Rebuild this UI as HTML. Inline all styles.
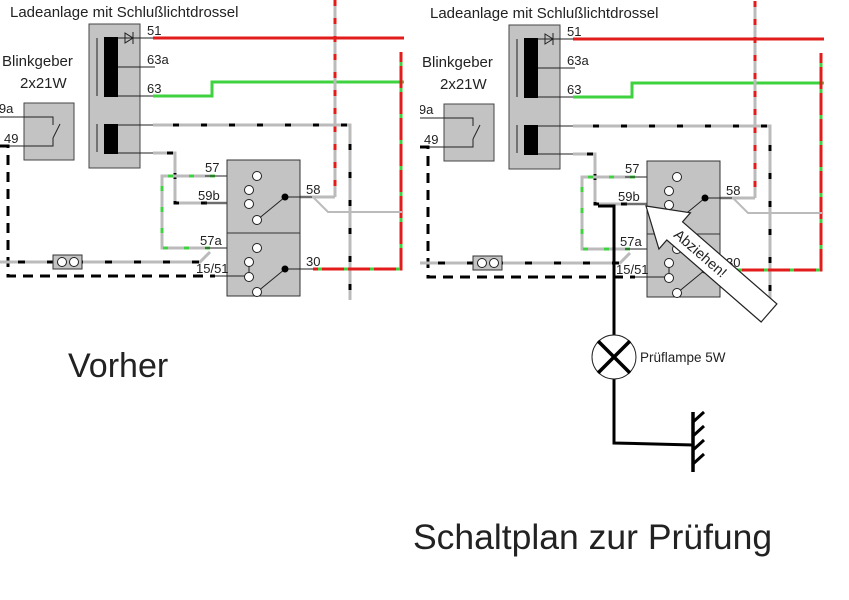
<!DOCTYPE html>
<html><head><meta charset="utf-8"><style>
html,body{margin:0;padding:0;background:#fff;width:849px;height:600px;overflow:hidden}
svg text{font-family:"Liberation Sans",Arial,sans-serif;fill:#222}
</style></head><body>
<svg width="849" height="600" viewBox="0 0 849 600" xmlns="http://www.w3.org/2000/svg">
<defs>
<clipPath id="c1"><rect x="0" y="0" width="408" height="300"/></clipPath>
<g id="dia">
<text x="10" y="17" font-size="15">Ladeanlage mit Schlußlichtdrossel</text>
<rect x="89" y="24" width="51" height="144" fill="#c3c3c3" stroke="#444" stroke-width="1"/>
<line x1="97" y1="38" x2="97" y2="96" stroke="#222" stroke-width="1"/>
<line x1="97" y1="124" x2="97" y2="152" stroke="#222" stroke-width="1"/>
<rect x="104" y="37" width="14" height="60" fill="#000"/>
<rect x="104" y="124" width="14" height="30" fill="#000"/>
<line x1="118" y1="38" x2="154" y2="38" stroke="#222"/>
<polygon points="125,33 125,43 133,38" fill="none" stroke="#222"/>
<line x1="133" y1="32" x2="133" y2="44" stroke="#222"/>
<line x1="118" y1="67" x2="155" y2="67" stroke="#222"/>
<line x1="118" y1="96" x2="153" y2="96" stroke="#222"/>
<line x1="118" y1="125" x2="153" y2="125" stroke="#222"/>
<line x1="118" y1="153" x2="153" y2="153" stroke="#222"/>
<text x="147" y="35" font-size="13">51</text>
<text x="147" y="64" font-size="13">63a</text>
<text x="147" y="93" font-size="13">63</text>
<line x1="153" y1="38" x2="404" y2="38" stroke="#e21b1b" stroke-width="3"/>
<polyline points="153,96 212,96 212,82 404,82" fill="none" stroke="#3fd23f" stroke-width="3"/>
<line x1="335" y1="0" x2="335" y2="197" stroke="#bbb" stroke-width="3"/>
<line x1="335" y1="0" x2="335" y2="197" stroke="#e21b1b" stroke-width="3" stroke-dasharray="6,12"/>
<polyline points="153,125 350,125 350,300" fill="none" stroke="#bbb" stroke-width="3"/>
<polyline points="153,125 350,125 350,300" fill="none" stroke="#000" stroke-width="3" stroke-dasharray="6,22" stroke-dashoffset="-20"/>
<polyline points="153,153 175,153 175,203 230,203 230,190 245,190" fill="none" stroke="#bbb" stroke-width="3"/>
<polyline points="153,153 175,153 175,203 220,203" fill="none" stroke="#000" stroke-width="3" stroke-dasharray="6,22" stroke-dashoffset="-14"/>
<line x1="205" y1="203" x2="230" y2="203" stroke="#222" stroke-width="1"/>
<polyline points="230,203 235,203 235,190 245,190" fill="none" stroke="#222" stroke-width="1"/>
<polyline points="215,176 162,176 162,248 210,248" fill="none" stroke="#bbb" stroke-width="3"/>
<polyline points="215,176 162,176 162,248 210,248" fill="none" stroke="#3fd23f" stroke-width="3" stroke-dasharray="5,16"/>
<line x1="205" y1="176" x2="253" y2="176" stroke="#222" stroke-width="1"/>
<line x1="205" y1="248" x2="253" y2="248" stroke="#222" stroke-width="1"/>
<polyline points="401,52 401,269 313,269" fill="none" stroke="#e21b1b" stroke-width="3"/>
<polyline points="401,52 401,269 313,269" fill="none" stroke="#3fd23f" stroke-width="3" stroke-dasharray="4,22" stroke-dashoffset="-10"/>
<polyline points="289,197 335,197" fill="none" stroke="#bbb" stroke-width="3"/>
<polyline points="313,197 328,212 402,212" fill="none" stroke="#bbb" stroke-width="2"/>
<text x="2" y="66" font-size="15">Blinkgeber</text>
<text x="20" y="88" font-size="15">2x21W</text>
<rect x="24" y="103" width="50" height="57" fill="#c3c3c3" stroke="#444"/>
<polyline points="0,117 53,117 53,125" fill="none" stroke="#222"/>
<polyline points="0,146 53,146 53,138" fill="none" stroke="#222"/>
<line x1="53" y1="138" x2="60" y2="124" stroke="#222"/>
<text x="-4" y="113" font-size="13">l9a</text>
<text x="4" y="143" font-size="13">49</text>
<polyline points="0,146 8,146 8,276 215,276" fill="none" stroke="#000" stroke-width="3" stroke-dasharray="10,7"/>
<polyline points="0,262 200,262 210,252" fill="none" stroke="#bbb" stroke-width="3"/>
<polyline points="0,262 200,262 210,252" fill="none" stroke="#000" stroke-width="3" stroke-dasharray="7,22" stroke-dashoffset="-18"/>
<rect x="53" y="255" width="29" height="14" fill="#c3c3c3" stroke="#333"/>
<circle cx="62" cy="262" r="4.5" fill="#fff" stroke="#222"/>
<circle cx="74" cy="262" r="4.5" fill="#fff" stroke="#222"/>
<rect x="227" y="160" width="73" height="136" fill="#c3c3c3" stroke="#333"/>
<line x1="227" y1="233" x2="300" y2="233" stroke="#333"/>
<line x1="215" y1="276" x2="245" y2="276" stroke="#222"/>
<line x1="249" y1="262" x2="249" y2="277" stroke="#222"/>
<line x1="257" y1="220" x2="285" y2="197" stroke="#222"/>
<line x1="257" y1="292" x2="285" y2="269" stroke="#222"/>
<line x1="285" y1="197" x2="312" y2="197" stroke="#222"/>
<line x1="285" y1="269" x2="313" y2="269" stroke="#222"/>
<g fill="#fff" stroke="#222">
<circle cx="257" cy="176" r="4.5"/><circle cx="249" cy="190" r="4.5"/><circle cx="249" cy="204" r="4.5"/><circle cx="257" cy="220" r="4.5"/>
<circle cx="257" cy="248" r="4.5"/><circle cx="249" cy="262" r="4.5"/><circle cx="249" cy="277" r="4.5"/><circle cx="257" cy="292" r="4.5"/>
</g>
<circle cx="285" cy="197" r="3.5" fill="#000"/>
<circle cx="285" cy="269" r="3.5" fill="#000"/>
<text x="205" y="172" font-size="13">57</text>
<text x="198" y="200" font-size="13">59b</text>
<text x="200" y="245" font-size="13">57a</text>
<text x="196" y="273" font-size="13">15/51</text>
<text x="306" y="194" font-size="13">58</text>
<text x="306" y="266" font-size="13">30</text>
</g>
</defs>
<g clip-path="url(#c1)"><use href="#dia"/></g>
<g transform="translate(420,1)"><g clip-path="url(#c1)"><use href="#dia"/></g></g>
<text x="68" y="377" font-size="34">Vorher</text>
<polyline points="598,206 614,206 614,336" fill="none" stroke="#000" stroke-width="3"/>
<polyline points="614,379 614,443 693,445" fill="none" stroke="#000" stroke-width="3"/>
<circle cx="614" cy="357" r="22" fill="#fff" stroke="#222"/>
<line x1="598" y1="341" x2="630" y2="373" stroke="#000" stroke-width="3.5"/>
<line x1="630" y1="341" x2="598" y2="373" stroke="#000" stroke-width="3.5"/>
<text x="640" y="362" font-size="13.5">Prüflampe 5W</text>
<line x1="693" y1="412" x2="693" y2="472" stroke="#000" stroke-width="3.5"/>
<g stroke="#000" stroke-width="3">
<line x1="693" y1="422" x2="704" y2="412"/><line x1="693" y1="436" x2="704" y2="426"/>
<line x1="693" y1="450" x2="704" y2="440"/><line x1="693" y1="464" x2="704" y2="454"/>
</g>
<g transform="translate(646,206) rotate(41)">
<polygon points="0,0 38,-24 38,-12 163,-12 163,12 38,12 38,24" fill="#fff" stroke="#222" stroke-width="1.2"/>
<text x="40" y="5" font-size="14.5">Abziehen!</text>
</g>
<text x="413" y="549" font-size="35.5">Schaltplan zur Prüfung</text>
</svg>
</body></html>
